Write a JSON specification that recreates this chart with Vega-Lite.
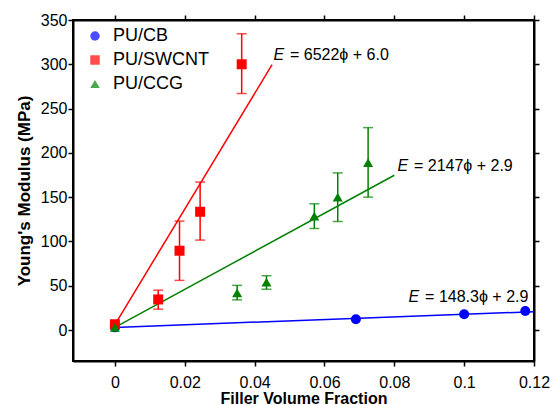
{
  "$schema": "https://vega.github.io/schema/vega-lite/v6.json",
  "width": 461,
  "height": 341,
  "autosize": "none",
  "padding": {"left": 73, "top": 20, "right": 20, "bottom": 44},
  "background": "white",
  "config": {
    "view": {"stroke": "black", "strokeWidth": 2},
    "font": "Liberation Sans",
    "axis": {
      "grid": false,
      "domainColor": "black",
      "domainWidth": 2,
      "tickColor": "black",
      "tickWidth": 1.5,
      "tickSize": 5,
      "labelColor": "black",
      "labelFont": "Liberation Sans",
      "labelFontSize": 16,
      "titleColor": "black",
      "titleFont": "Liberation Sans",
      "titleFontWeight": "bold",
      "titleFontSize": 16
    },
    "legend": {
      "padding": 0,
      "labelFont": "Liberation Sans",
      "labelFontSize": 18,
      "labelColor": "black",
      "labelOffset": 9,
      "rowPadding": 6,
      "symbolSize": 90,
      "symbolStrokeWidth": 0
    }
  },
  "datasets": {
    "fits": [
      {"series": "PU/CB", "x": 0, "y": 2.9},
      {"series": "PU/CB", "x": 0.12, "y": 20.7},
      {"series": "PU/SWCNT", "x": 0, "y": 6.0},
      {"series": "PU/SWCNT", "x": 0.045, "y": 299.5},
      {"series": "PU/CCG", "x": 0, "y": 2.9},
      {"series": "PU/CCG", "x": 0.08, "y": 174.7}
    ],
    "pts": [
      {"series": "PU/CB", "x": 0, "y": 3},
      {"series": "PU/CB", "x": 0.069, "y": 12.2},
      {"series": "PU/CB", "x": 0.1, "y": 17.7},
      {"series": "PU/CB", "x": 0.1175, "y": 21.5},
      {"series": "PU/SWCNT", "x": 0, "y": 6.5},
      {"series": "PU/SWCNT", "x": 0.0124, "y": 34.5},
      {"series": "PU/SWCNT", "x": 0.0185, "y": 89.5},
      {"series": "PU/SWCNT", "x": 0.0244, "y": 133.5},
      {"series": "PU/SWCNT", "x": 0.0363, "y": 300},
      {"series": "PU/CCG", "x": 0, "y": 3},
      {"series": "PU/CCG", "x": 0.035, "y": 42},
      {"series": "PU/CCG", "x": 0.0434, "y": 54},
      {"series": "PU/CCG", "x": 0.0571, "y": 128.5},
      {"series": "PU/CCG", "x": 0.0638, "y": 150},
      {"series": "PU/CCG", "x": 0.0725, "y": 189}
    ],
    "err": [
      {"series": "PU/SWCNT", "x": 0.0124, "lo": 23.5, "hi": 45},
      {"series": "PU/SWCNT", "x": 0.0185, "lo": 56, "hi": 123},
      {"series": "PU/SWCNT", "x": 0.0244, "lo": 101.5, "hi": 167},
      {"series": "PU/SWCNT", "x": 0.0363, "lo": 267, "hi": 334.5},
      {"series": "PU/CCG", "x": 0.035, "lo": 34, "hi": 50.4},
      {"series": "PU/CCG", "x": 0.0434, "lo": 46, "hi": 61.3},
      {"series": "PU/CCG", "x": 0.0571, "lo": 114.6, "hi": 142.5},
      {"series": "PU/CCG", "x": 0.0638, "lo": 122.5, "hi": 177.4},
      {"series": "PU/CCG", "x": 0.0725, "lo": 150, "hi": 228.5}
    ],
    "eq": [
      {"x": 0.0454, "y": 310, "e": "E", "rest": "= 6522ϕ + 6.0"},
      {"x": 0.0809, "y": 185, "e": "E", "rest": "= 2147ϕ + 2.9"},
      {"x": 0.0841, "y": 37.4, "e": "E", "rest": "= 148.3ϕ + 2.9"}
    ]
  },
  "layer": [
    {
      "data": {"name": "fits"},
      "mark": {"type": "line", "strokeWidth": 1.5},
      "encoding": {
        "x": {"field": "x", "type": "quantitative",
          "scale": {"domain": [-0.012, 0.12], "nice": false, "zero": false},
          "axis": {"orient": "bottom", "values": [0, 0.02, 0.04, 0.06, 0.08, 0.1, 0.12], "labelExpr": "datum.value == 0 ? '0' : format(datum.value, '.2~f')", "labelFlush": false, "labelOverlap": false, "labelBound": false, "title": "Filler Volume Fraction", "labelPadding": 8, "titlePadding": 0}},
        "y": {"field": "y", "type": "quantitative",
          "scale": {"domain": [-35, 350], "nice": false, "zero": false},
          "axis": {"orient": "left", "values": [0, 50, 100, 150, 200, 250, 300, 350], "labelFlush": false, "title": "Young's Modulus (MPa)", "titleFontSize": 17, "labelPadding": 1, "titlePadding": 7}},
        "color": {"field": "series", "type": "nominal",
          "scale": {"domain": ["PU/CB", "PU/SWCNT", "PU/CCG"], "range": ["#0000ff", "#ff0000", "#008000"]}}
      }
    },
    {
      "data": {"name": "err"},
      "mark": {"type": "rule", "strokeWidth": 1.5},
      "encoding": {
        "x": {"field": "x", "type": "quantitative", "scale": {"domain": [-0.012, 0.12], "nice": false, "zero": false}, "axis": null},
        "y": {"field": "lo", "type": "quantitative", "scale": {"domain": [-35, 350], "nice": false, "zero": false}, "axis": null},
        "y2": {"field": "hi"},
        "color": {"field": "series", "type": "nominal"}
      }
    },
    {
      "data": {"name": "err"},
      "mark": {"type": "tick", "orient": "horizontal", "size": 10, "thickness": 1.5},
      "encoding": {
        "x": {"field": "x", "type": "quantitative", "scale": {"domain": [-0.012, 0.12], "nice": false, "zero": false}, "axis": null},
        "y": {"field": "lo", "type": "quantitative", "scale": {"domain": [-35, 350], "nice": false, "zero": false}, "axis": null},
        "color": {"field": "series", "type": "nominal"}
      }
    },
    {
      "data": {"name": "err"},
      "mark": {"type": "tick", "orient": "horizontal", "size": 10, "thickness": 1.5},
      "encoding": {
        "x": {"field": "x", "type": "quantitative", "scale": {"domain": [-0.012, 0.12], "nice": false, "zero": false}, "axis": null},
        "y": {"field": "hi", "type": "quantitative", "scale": {"domain": [-35, 350], "nice": false, "zero": false}, "axis": null},
        "color": {"field": "series", "type": "nominal"}
      }
    },
    {
      "data": {"name": "pts"},
      "mark": {"type": "point", "filled": true, "opacity": 1, "size": 100, "strokeWidth": 0},
      "encoding": {
        "x": {"field": "x", "type": "quantitative", "scale": {"domain": [-0.012, 0.12], "nice": false, "zero": false}, "axis": null},
        "y": {"field": "y", "type": "quantitative", "scale": {"domain": [-35, 350], "nice": false, "zero": false}, "axis": null},
        "color": {"field": "series", "type": "nominal", "legend": {"title": null, "orient": "none", "legendX": 13, "legendY": 7}},
        "shape": {"field": "series", "type": "nominal", "scale": {"domain": ["PU/CB", "PU/SWCNT", "PU/CCG"], "range": ["circle", "square", "triangle-up"]}, "legend": {"title": null, "orient": "none", "legendX": 13, "legendY": 7}}
      }
    },
    {
      "data": {"name": "eq"},
      "mark": {"type": "text", "align": "left", "baseline": "middle", "fontSize": 16, "fontStyle": "italic", "font": "Liberation Sans", "color": "black"},
      "encoding": {
        "x": {"field": "x", "type": "quantitative", "scale": {"domain": [-0.012, 0.12], "nice": false, "zero": false},
          "axis": {"orient": "top", "values": [0, 0.02, 0.04, 0.06, 0.08, 0.1, 0.12], "labels": false, "title": null}},
        "y": {"field": "y", "type": "quantitative", "scale": {"domain": [-35, 350], "nice": false, "zero": false},
          "axis": {"orient": "right", "values": [0, 50, 100, 150, 200, 250, 300, 350], "labels": false, "title": null}},
        "text": {"field": "e"}
      }
    },
    {
      "data": {"name": "eq"},
      "mark": {"type": "text", "align": "left", "baseline": "middle", "fontSize": 16, "dx": 16.5, "font": "Liberation Sans", "color": "black"},
      "encoding": {
        "x": {"field": "x", "type": "quantitative", "scale": {"domain": [-0.012, 0.12], "nice": false, "zero": false}, "axis": null},
        "y": {"field": "y", "type": "quantitative", "scale": {"domain": [-35, 350], "nice": false, "zero": false}, "axis": null},
        "text": {"field": "rest"}
      }
    }
  ],
  "resolve": {"axis": {"x": "independent", "y": "independent"}}
}
